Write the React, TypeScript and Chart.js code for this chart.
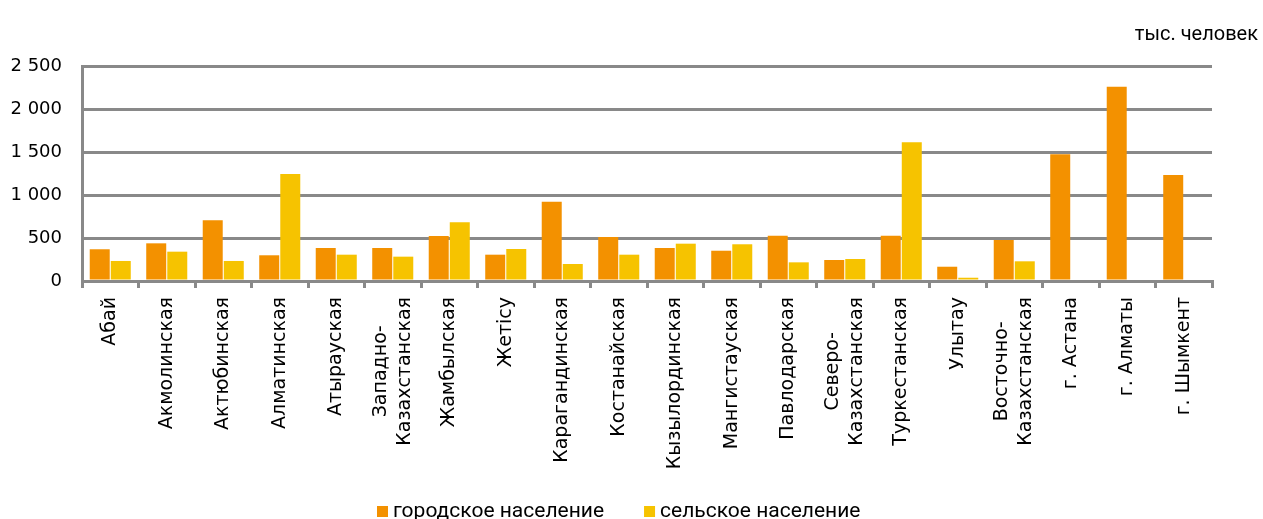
import React, { useEffect, useRef } from 'react';
import { Chart, registerables } from 'chart.js';

Chart.register(...registerables);

const categories: (string | string[])[] = [
  'Абай',
  'Акмолинская',
  'Актюбинская',
  'Алматинская',
  'Атырауская',
  ['Западно-', 'Казахстанская'],
  'Жамбылская',
  'Жетісу',
  'Карагандинская',
  'Костанайская',
  'Кызылординская',
  'Мангистауская',
  'Павлодарская',
  ['Северо-', 'Казахстанская'],
  'Туркестанская',
  'Улытау',
  ['Восточно-', 'Казахстанская'],
  'г. Астана',
  'г. Алматы',
  'г. Шымкент',
];

const urbanValues = [369, 438, 706, 299, 384, 384, 523, 306, 922, 512, 384, 352, 527, 244, 527, 166, 477, 1473, 2259, 1233];
const ruralValues: (number | null)[] = [233, 341, 233, 1244, 306, 283, 682, 372, 198, 306, 434, 427, 217, 256, 1612, 38, 229, null, null, null];

const seriesNames = ['городское население', 'сельское население'];
const seriesColors = ['#F39100', '#F6C300'];
const unitLabel = 'тыс. человек';
const yMin = 0;
const yMax = 2500;
const yStep = 500;

const GRID = '#898989';

function fmt(v: number): string {
  return String(v).replace(/\B(?=(\d{3})+(?!\d))/g, ' ');
}

const overlayPlugin = {
  id: 'overlay',
  afterDraw(chart: any) {
    const { ctx, scales } = chart;
    const x = scales.x;
    ctx.save();
    // category labels (rotated, multi-line centred)
    ctx.font = '19px "DejaVu Sans"';
    ctx.fillStyle = '#000';
    ctx.textAlign = 'right';
    ctx.textBaseline = 'middle';
    const lh = 24;
    const topY = x.top + 16;
    categories.forEach((lab, i) => {
      const lines = Array.isArray(lab) ? lab : [lab];
      const cx = x.getPixelForValue(i);
      const widths = lines.map((l) => ctx.measureText(l).width);
      const maxW = Math.max(...widths);
      const x0 = cx - ((lines.length - 1) * lh) / 2;
      lines.forEach((l, j) => {
        ctx.save();
        ctx.translate(x0 + j * lh, topY);
        ctx.rotate(-Math.PI / 2);
        ctx.fillText(l, -(maxW - widths[j]) / 2, 0);
        ctx.restore();
      });
    });

    // unit label
    ctx.font = '20px Roboto';
    ctx.textAlign = 'right';
    ctx.textBaseline = 'alphabetic';
    ctx.fillStyle = '#000';
    ctx.fillText(unitLabel, chart.width - 5, 40);

    // legend
    ctx.font = '21px Roboto';
    ctx.textAlign = 'left';
    let xp = 377;
    const base = chart.height - 2;
    seriesNames.forEach((name, i) => {
      ctx.fillStyle = seriesColors[i];
      ctx.fillRect(xp, base - 11, 11, 11);
      ctx.fillStyle = '#000';
      ctx.fillText(name, xp + 16, base);
      xp += 16 + ctx.measureText(name).width + 40;
    });
    ctx.restore();
  },
};

export default function App() {
  const ref = useRef<HTMLCanvasElement | null>(null);
  useEffect(() => {
    if (!ref.current) return;
    const chart = new Chart(ref.current, {
      type: 'bar',
      data: {
        labels: categories as any,
        datasets: [
          {
            label: seriesNames[0],
            data: urbanValues,
            backgroundColor: seriesColors[0],
            categoryPercentage: 0.745,
            barPercentage: 0.95,
          },
          {
            label: seriesNames[1],
            data: ruralValues,
            backgroundColor: seriesColors[1],
            categoryPercentage: 0.745,
            barPercentage: 0.95,
          },
        ],
      },
      options: {
        responsive: false,
        animation: false,
        devicePixelRatio: 1,
        layout: { padding: { top: 66, right: 51, left: 0, bottom: 0 } },
        plugins: {
          legend: { display: false },
          tooltip: { enabled: false },
          title: { display: false },
        },
        scales: {
          x: {
            z: 1,
            ticks: { display: false },
            grid: {
              offset: true,
              drawOnChartArea: false,
              drawTicks: true,
              tickLength: 7,
              color: GRID,
              lineWidth: 3,
            },
            border: { display: true, color: GRID, width: 3 },
            afterFit: (scale: any) => {
              scale.height = 238;
            },
          },
          y: {
            min: yMin,
            max: yMax,
            ticks: {
              stepSize: yStep,
              padding: 20,
              color: '#000',
              font: { family: '"DejaVu Sans"', size: 18 },
              callback: (v: any) => fmt(Number(v)),
            },
            grid: { color: GRID, lineWidth: 3, drawTicks: false },
            border: { display: true, color: GRID, width: 3 },
            afterFit: (scale: any) => {
              scale.width = 82;
            },
          },
        },
      },
      plugins: [overlayPlugin],
    });
    return () => chart.destroy();
  }, []);
  return (
    <div style={{ position: 'absolute', left: 0, top: 0, width: 1263, height: 519, background: '#fff' }}>
      <canvas ref={ref} width={1263} height={519} style={{ display: 'block' }} />
    </div>
  );
}
